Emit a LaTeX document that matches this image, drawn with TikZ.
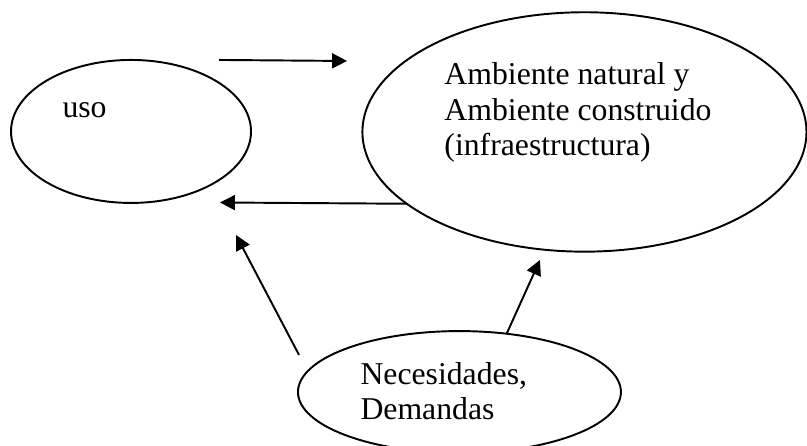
\documentclass[tikz,border=0pt]{standalone}
\usepackage{fontspec}
\setmainfont{Liberation Serif}
\usetikzlibrary{shapes.geometric,arrows.meta}
\tikzset{
  bubble/.style={draw,ellipse,line width=.75pt,inner sep=0pt,outer sep=0pt},
  txt/.style={anchor=base west,align=left,inner sep=0pt,font=\fontsize{12.3}{13.8}\selectfont},
  arr/.style={line width=.75pt,-{Triangle[length=5.8pt,width=5.8pt]}}
}
\begin{document}
\begin{tikzpicture}
\useasboundingbox (0,0) rectangle (10.995,6.076);
\node[bubble,minimum width=3.27cm,minimum height=1.948cm] (uso) at (1.785,4.285){};
\node[bubble,minimum width=6.05cm,minimum height=3.262cm] (amb) at (7.963,4.278){};
\node[bubble,minimum width=4.40cm,minimum height=1.66cm] (need) at (6.260,.735){};
% base of a multi-line node is its last line
\node[txt] (usotxt) at (.845,4.469){uso};
\node[txt] (ambtxt) at (6.049,3.951){Ambiente natural y\\Ambiente construido\\(infraestructura)};
\node[txt] (needtxt) at (4.905,.354){Necesidades,\\Demandas};
\coordinate (topfrom) at (2.984,5.259);
\coordinate (topto) at (4.728,5.245);
\coordinate (backto) at (2.997,3.317);
\coordinate (upfrom) at (4.074,1.240);
\coordinate (upto) at (3.215,2.875);
\coordinate (rightto) at (7.357,2.534);
\draw[arr] (topfrom) -- (topto);
\draw[arr] (amb.202) -- (backto);
\draw[arr] (upfrom) -- (upto);
\draw[arr] (need.51) -- (rightto);
\end{tikzpicture}
\end{document}
